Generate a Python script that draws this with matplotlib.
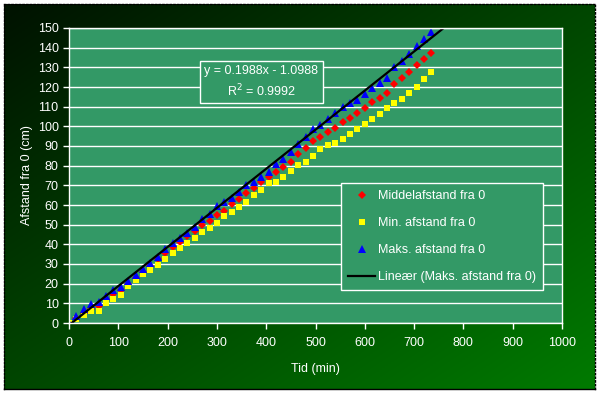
import matplotlib
matplotlib.use('Agg')
import matplotlib.pyplot as plt
import numpy as np

plt.rcParams['font.family'] = ['Liberation Sans', 'DejaVu Sans']

# tid (min)
tid = [0, 15, 30, 45, 60, 75, 90, 105, 120, 135, 150, 165, 180, 195, 210, 225,
       240, 255, 270, 285, 300, 315, 330, 345, 360, 375, 390, 405, 420, 435,
       450, 465, 480, 495, 510, 525, 540, 555, 570, 585, 600, 615, 630, 645,
       660, 675, 690, 705, 720, 735]
# middelafstand (cm)
middel = [0, 2.5, 5, 7, 8.7, 12, 14.7, 17, 20, 23, 26, 29, 32.5, 35.5, 38.5, 41,
          44, 46.6, 49.6, 51.7, 54.7, 57.2, 60.3, 62.8, 66, 68.4, 71.5, 74, 76.6, 79.1,
          82, 85.7, 88.8, 92.3, 94.4, 96.9, 98.9, 102, 104, 106.6, 109.1, 112.2, 114.2, 117.2,
          121.3, 124.4, 127.4, 131, 134.2, 137.4]
# min. afstand (cm)
mini = [0, 2, 3.9, 6.2, 6.1, 10, 12, 14.4, 18.6, 21.7, 24.7, 26.8, 29.3, 32.7, 35.4, 37.9,
        40.8, 43, 46.3, 48.3, 51.1, 54.2, 56.6, 58.8, 61.5, 64.9, 67.8, 71.2, 71.8, 74,
        77.1, 80.1, 82, 85, 88.3, 90.3, 91.4, 93.8, 96.2, 98.8, 101.2, 103.9, 106.3, 109.1,
        112, 114, 117.1, 120.1, 124.2, 127.4]
# maks. afstand (cm)
maks = [0, 3.4, 7, 9.5, 10.5, 13.5, 17, 18.5, 21.5, 24.5, 27.5, 30.5, 33.5, 37.5, 40.5, 43,
        46, 49, 53, 55.5, 59.5, 61.5, 63.5, 66.7, 70, 71.7, 74.2, 76.6, 80.6, 83.4,
        86.7, 91, 94.8, 98.6, 100.7, 103.7, 106.6, 109.6, 111.7, 113.5, 116.4, 119.6, 121.8, 124.8,
        130, 133.3, 136.8, 140.6, 144.5, 147.9]

# trendlinje (Maks.)
slope, icept = 0.1988, -1.0988
trend_x = [0, 760]

fig = plt.figure(figsize=(6.02, 3.94), dpi=100)
fig.patch.set_facecolor('white')

# baggrund med gradient
bg = fig.add_axes([4/602., 5/394., 591/602., 385/394.])
gx, gy = np.meshgrid(np.linspace(0, 1, 200), np.linspace(0, 1, 200))
g = (gx + gy) / 2.0
rgb = np.zeros((200, 200, 3))
rgb[..., 1] = 0.07 + g * 0.41
bg.imshow(rgb, aspect='auto', extent=[0, 1, 0, 1], origin='upper')
bg.set_xticks([])
bg.set_yticks([])
for s in bg.spines.values():
	s.set_linestyle(':')
	s.set_color('black')
	s.set_linewidth(1)
bg.spines['bottom'].set_linestyle('-')

ax = fig.add_axes([69/602., 1 - 323/394., (562 - 69)/602., (323 - 28)/394.])
ax.set_facecolor('#339966')
ax.set_xlim(0, 1000)
ax.set_ylim(0, 150)
ax.set_xticks(range(0, 1001, 100))
ax.set_yticks(range(0, 151, 10))
ax.yaxis.grid(True, color='white', lw=1)
ax.set_axisbelow(True)
for s in ax.spines.values():
	s.set_color('white')
	s.set_linewidth(1)
ax.tick_params(colors='white', labelsize=9, length=4, width=1)
ax.tick_params(axis='x', pad=6)

ax.plot(tid, middel, 'D', color='#ff0000', ms=4.5, mew=0, label='Middelafstand fra 0')
ax.plot(tid, mini, 's', color='#ffff00', ms=5, mew=0, label='Min. afstand fra 0')
ax.plot(tid, maks, '^', color='#0000ff', ms=6, mew=0, label='Maks. afstand fra 0')
tx = np.array(trend_x)
ax.plot(tx, slope * tx + icept, '-', color='black', lw=1.6, label='Line\u00e6r (Maks. afstand fra 0)')

ax.set_xlabel('Tid (min)', color='white', fontsize=9, labelpad=10)
ax.set_ylabel('Afstand fra 0 (cm)', color='white', fontsize=9, labelpad=3)

ax.text(0.39, 0.817, 'y = 0.1988x - 1.0988\nR$^2$ = 0.9992', transform=ax.transAxes,
        ha='center', va='center', color='white', fontsize=9, linespacing=1.4,
        bbox=dict(boxstyle='square,pad=0.35', fc='#339966', ec='white', lw=1))

leg = ax.legend(loc='upper left', bbox_to_anchor=((341 - 69)/493., (323 - 183)/295.),
                borderaxespad=0, fontsize=9, frameon=True, fancybox=False, framealpha=1,
                facecolor='#339966', edgecolor='white', labelspacing=1.2,
                handlelength=2.2, handletextpad=0.2, borderpad=0.55)
leg.get_frame().set_linewidth(1)
for t in leg.get_texts():
	t.set_color('white')

plt.savefig('out.png', dpi=100, facecolor='white')
